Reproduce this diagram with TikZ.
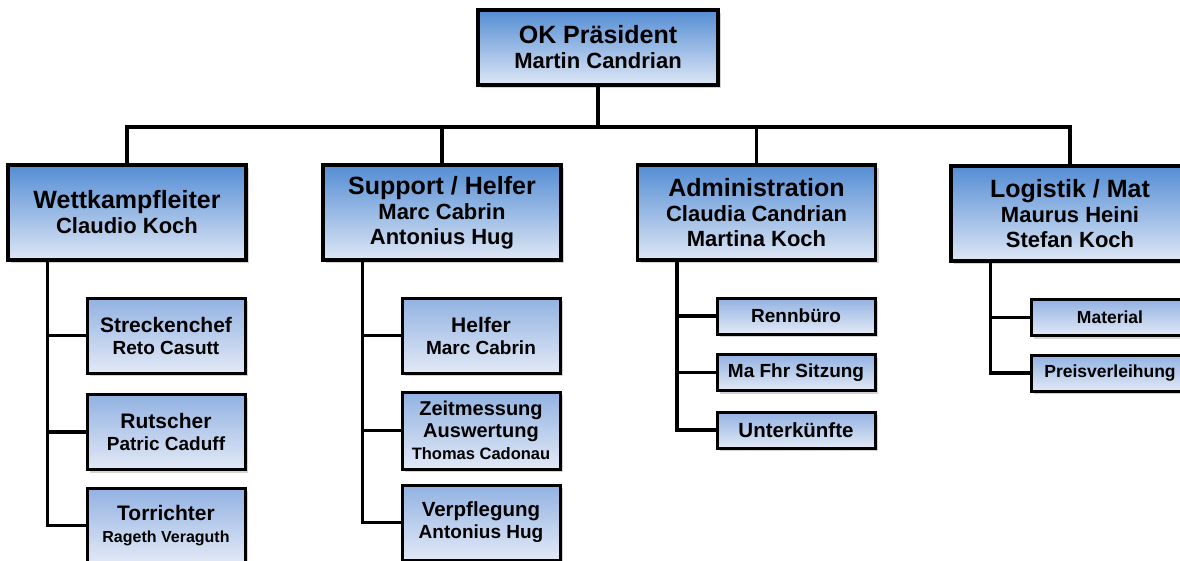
\documentclass[tikz,border=0pt]{standalone}
\usepackage{fontspec}
\setmainfont{Liberation Sans}
\usepackage{tikz}
\usetikzlibrary{shadows,calc}

\definecolor{boxtop}{RGB}{84,141,212}
\definecolor{boxbot}{RGB}{222,231,245}
\definecolor{subtop}{RGB}{146,178,226}
\definecolor{subbot}{RGB}{226,233,246}
\newcommand{\orgtitle}{\fontsize{25}{25}\selectfont}

\begin{document}
\begin{tikzpicture}[x=1pt,y=-1pt,
    chief/.style={draw=black,line width=3.4pt,top color=boxtop,bottom color=boxbot,
        drop shadow={shadow xshift=3pt,shadow yshift=-3pt,opacity=0.35},
        minimum width=238pt,minimum height=95pt,inner sep=0pt,align=center,
        font=\bfseries\fontsize{22}{25}\selectfont},
    subbox/.style={draw=black,line width=3pt,top color=subtop,bottom color=subbot,
        drop shadow={shadow xshift=3pt,shadow yshift=-3pt,opacity=0.35},
        minimum width=158pt,minimum height=75pt,inner sep=0pt,align=center,
        font=\bfseries\fontsize{19}{22}\selectfont},
    smallbox/.style={subbox,minimum height=36pt},
    conn/.style={draw=black,line width=3.4pt}]
    \useasboundingbox (0,0) rectangle (1180,561);
    \clip (0,0) rectangle (1180,561);

    % Top
    \node[chief,minimum width=240pt,minimum height=75pt] (pres) at (598,47.5)
        {{\orgtitle OK Präsident}\\Martin Candrian};

    % Ressorts
    \node[chief] (wkl) at (127,212.5) {{\orgtitle Wettkampfleiter}\\Claudio Koch};
    \node[chief] (sup) at (442,212.5) {{\orgtitle Support\ / Helfer}\\Marc Cabrin\\Antonius Hug};
    \node[chief] (adm) at (756.5,212.5) {{\orgtitle Administration}\\Claudia Candrian\\Martina Koch};
    \node[chief] (log) at (1070,213.5) {{\orgtitle Logistik / Mat}\\Maurus Heini\\Stefan Koch};

    % Wettkampf
    \node[subbox] (strecke) at (166,335.5) {{\fontsize{21}{22}\selectfont Streckenchef}\\Reto Casutt};
    \node[subbox] (rutsch) at (166,432) {{\fontsize{21}{22}\selectfont Rutscher}\\Patric Caduff};
    \node[subbox] (tor) at (166,525.5) {{\fontsize{21}{22}\selectfont Torrichter}\\{\fontsize{16}{18}\selectfont Rageth Veraguth}};

    % Support
    \node[subbox] (helf) at (481,335.5) {{\fontsize{21}{22}\selectfont Helfer}\\Marc Cabrin};
    \node[subbox,minimum height=77pt] (zeit) at (481,430.5)
        {{\fontsize{20}{21}\selectfont Zeitmessung}\\{\fontsize{20}{21}\selectfont Auswertung}\\{\fontsize{16.5}{18}\selectfont Thomas Cadonau}};
    \node[subbox] (verpf) at (481,522.5) {{\fontsize{20.5}{22}\selectfont Verpflegung}\\Antonius Hug};

    % Administration
    \node[smallbox] (renn) at (796,316) {Rennbüro};
    \node[smallbox] (mafhr) at (796,372.5) {Ma Fhr Sitzung};
    \node[smallbox] (unterk) at (796,430) {\fontsize{20.5}{22}\selectfont Unterkünfte};

    % Logistik
    \node[smallbox] (mat) at (1110,317.5) {\fontsize{17.5}{20}\selectfont Material};
    \node[smallbox] (preis) at (1110,373) {\fontsize{17.5}{20}\selectfont Preisverleihung};

    % Lines
    \coordinate (bar) at (598,127);
    \draw[conn] (pres) -- (bar);
    \foreach \n in {wkl,sup,adm,log}
        \draw[conn] (bar) -| (\n);
    \foreach \p/\s in {wkl/strecke,wkl/rutsch,wkl/tor,sup/helf,sup/zeit,sup/verpf,
                       adm/renn,adm/mafhr,adm/unterk,log/mat,log/preis}
        \draw[conn] ([xshift=41pt]\p.south west) |- (\s);
\end{tikzpicture}
\end{document}
